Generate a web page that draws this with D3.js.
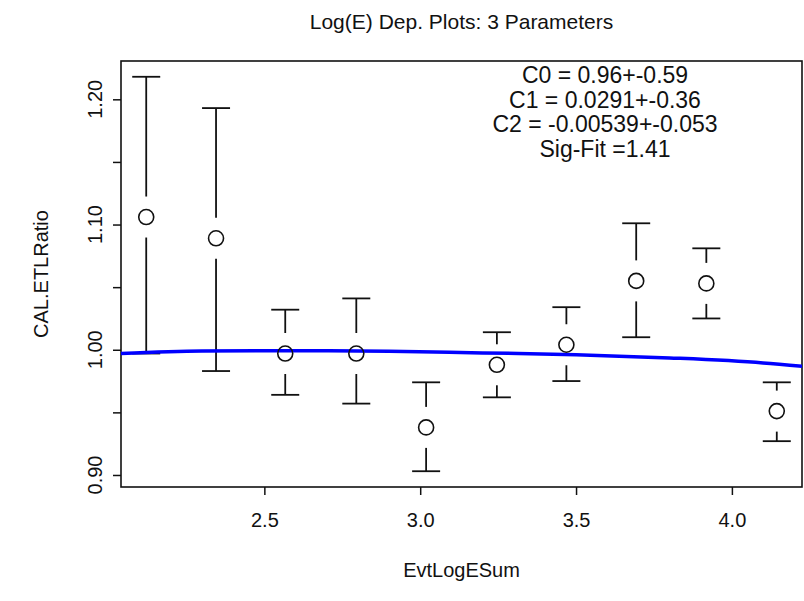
<!DOCTYPE html>
<html>
<head>
<meta charset="utf-8">
<script src="https://cdn.jsdelivr.net/npm/d3@7"></script>
<style>
  body { margin: 0; background: #fff; }
  text { font-family: "Liberation Sans", Arial, sans-serif; fill: #111; }
</style>
</head>
<body>
<script>
// binned points: EvtLogESum centre, ratio and error bar ends
const xVals = [2.121, 2.345, 2.567, 2.795, 3.019, 3.246, 3.469, 3.693, 3.918, 4.144];
const ratio = [1.106, 1.089, 0.997, 0.997, 0.938, 0.988, 1.004, 1.055, 1.053, 0.951];
const upper = [1.218, 1.193, 1.032, 1.041, 0.974, 1.014, 1.034, 1.101, 1.081, 0.974];
const lower = [0.997, 0.983, 0.964, 0.957, 0.903, 0.962, 0.975, 1.010, 1.025, 0.927];

// fitted curve
const fitX = [2.04, 2.3, 2.6, 2.9, 3.2, 3.5, 3.8, 4.1, 4.225];
const fitY = [0.9970, 0.9990, 0.9993, 0.9989, 0.9975, 0.9961, 0.9935, 0.9895, 0.9868];

const xTicks = [2.5, 3.0, 3.5, 4.0];
const yTicks = [0.90, 0.95, 1.00, 1.05, 1.10, 1.15, 1.20];
const yLabelTicks = [0.90, 1.00, 1.10, 1.20];
const fitText = ["C0 = 0.96+-0.59", "C1 = 0.0291+-0.36", "C2 = -0.00539+-0.053", "Sig-Fit =1.41"];

document.addEventListener("DOMContentLoaded", () => {
	const width = 804;
	const height = 601;
	const left = 121, right = 802, top = 61, bottom = 487;

	const svg = d3.select("body")
				  .append("svg")
				  .attr("width", width)
				  .attr("height", height);

	// R style 4% padding of the data range
	const pad = (lo, hi) => [lo - (hi - lo) * 0.04, hi + (hi - lo) * 0.04];
	const xExt = d3.extent(xVals);
	const yExt = [d3.min(lower), d3.max(upper)];

	const x = d3.scaleLinear().domain(pad(xExt[0], xExt[1])).range([left, right]);
	const y = d3.scaleLinear().domain(pad(yExt[0], yExt[1])).range([bottom, top]);

	svg.append("defs").append("clipPath").attr("id", "plotclip")
	   .append("rect")
	   .attr("x", left).attr("y", top)
	   .attr("width", right - left).attr("height", bottom - top);

	// title
	svg.append("text")
	   .attr("x", (left + right) / 2)
	   .attr("y", 29)
	   .attr("text-anchor", "middle")
	   .style("font-size", "21px")
	   .text("Log(E) Dep. Plots: 3 Parameters");

	// axes
	const xAxis = d3.axisBottom(x).tickValues(xTicks).tickFormat(d3.format(".1f")).tickSize(8).tickPadding(18);
	const gx = svg.append("g")
				  .attr("transform", `translate(0,${bottom})`)
				  .call(xAxis);
	gx.select(".domain").remove();

	const yAxis = d3.axisLeft(y).tickValues(yTicks).tickSize(8).tickFormat("");
	const gy = svg.append("g")
				  .attr("transform", `translate(${left},0)`)
				  .call(yAxis);
	gy.select(".domain").remove();

	svg.selectAll(".tick line").attr("stroke", "#111").attr("stroke-width", 1.5);
	gx.selectAll("text").style("font-size", "20px").style("fill", "#111");

	svg.selectAll(".ylab")
	   .data(yLabelTicks)
	   .enter()
	   .append("text")
	   .attr("class", "ylab")
	   .attr("transform", d => `translate(102,${y(d)}) rotate(-90)`)
	   .attr("text-anchor", "middle")
	   .style("font-size", "20px")
	   .text(d => d.toFixed(2));

	// axis titles
	svg.append("text")
	   .attr("x", (left + right) / 2)
	   .attr("y", 577)
	   .attr("text-anchor", "middle")
	   .style("font-size", "20px")
	   .text("EvtLogESum");

	svg.append("text")
	   .attr("transform", `translate(48,${(top + bottom) / 2}) rotate(-90)`)
	   .attr("text-anchor", "middle")
	   .style("font-size", "20px")
	   .text("CAL.ETLRatio");

	// plot box
	svg.append("rect")
	   .attr("x", left).attr("y", top)
	   .attr("width", right - left).attr("height", bottom - top)
	   .attr("fill", "none")
	   .attr("stroke", "#111")
	   .attr("stroke-width", 1.6);

	const pts = xVals.map((d, i) => ({x: d, r: ratio[i], hi: upper[i], lo: lower[i]}));
	const gap = 20.5;
	const cap = 14;

	const bars = svg.append("g")
					.attr("stroke", "#111")
					.attr("stroke-width", 1.8)
					.attr("fill", "none");

	// upper part of each bar
	bars.selectAll(".up")
		.data(pts.filter(d => y(d.hi) < y(d.r) - gap))
		.enter()
		.append("line")
		.attr("x1", d => x(d.x)).attr("x2", d => x(d.x))
		.attr("y1", d => y(d.hi)).attr("y2", d => y(d.r) - gap);

	bars.selectAll(".down")
		.data(pts.filter(d => y(d.lo) > y(d.r) + gap))
		.enter()
		.append("line")
		.attr("x1", d => x(d.x)).attr("x2", d => x(d.x))
		.attr("y1", d => y(d.r) + gap).attr("y2", d => y(d.lo));

	bars.selectAll(".captop")
		.data(pts)
		.enter()
		.append("line")
		.attr("x1", d => x(d.x) - cap).attr("x2", d => x(d.x) + cap)
		.attr("y1", d => y(d.hi)).attr("y2", d => y(d.hi));

	bars.selectAll(".capbot")
		.data(pts)
		.enter()
		.append("line")
		.attr("x1", d => x(d.x) - cap).attr("x2", d => x(d.x) + cap)
		.attr("y1", d => y(d.lo)).attr("y2", d => y(d.lo));

	// fitted curve
	const fitLine = d3.line()
					  .x((d, i) => x(fitX[i]))
					  .y(d => y(d))
					  .curve(d3.curveMonotoneX);

	svg.append("path")
	   .datum(fitY)
	   .attr("clip-path", "url(#plotclip)")
	   .attr("fill", "none")
	   .attr("stroke", "#0000ff")
	   .attr("stroke-width", 3.5)
	   .attr("d", fitLine);

	// open circles
	svg.append("g")
	   .selectAll("circle")
	   .data(pts)
	   .enter()
	   .append("circle")
	   .attr("cx", d => x(d.x))
	   .attr("cy", d => y(d.r))
	   .attr("r", 7.5)
	   .attr("fill", "none")
	   .attr("stroke", "#111")
	   .attr("stroke-width", 1.6);

	// fit parameters
	svg.append("g")
	   .selectAll("text")
	   .data(fitText)
	   .enter()
	   .append("text")
	   .attr("x", 605)
	   .attr("y", (d, i) => 83 + i * 24.5)
	   .attr("text-anchor", "middle")
	   .style("font-size", "23px")
	   .text(d => d);
});
</script>
</body>
</html>
